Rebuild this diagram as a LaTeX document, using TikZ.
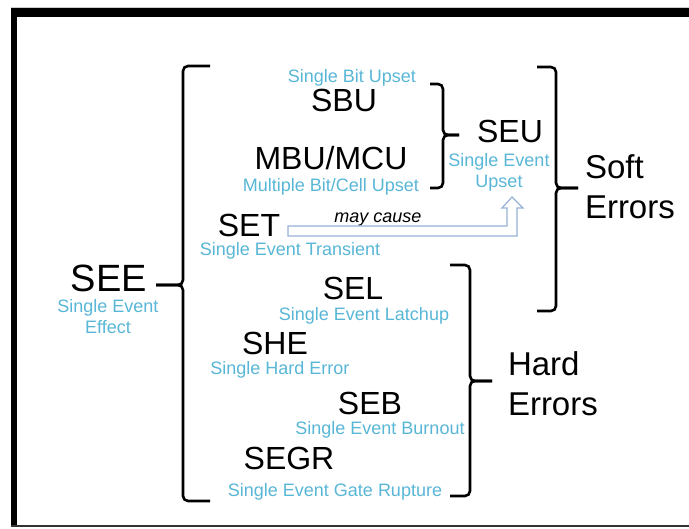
\documentclass[tikz,border=0pt]{standalone}
\usepackage{fontspec}
\setmainfont{Liberation Sans}
\usepackage{tikz}
\definecolor{seeblue}{RGB}{88,182,214}
\definecolor{arrowblue}{RGB}{150,176,214}

\begin{document}
\begin{tikzpicture}[x=1pt, y=-1pt,
  every node/.style={inner sep=0pt, outer sep=0pt},
  big/.style={font=\fontsize{38}{42}\selectfont},
  abbr/.style={font=\fontsize{32}{36}\selectfont, anchor=base},
  full/.style={text=seeblue, font=\fontsize{18}{21.5}\selectfont, align=center},
  group/.style={font=\fontsize{33}{40}\selectfont, align=left, anchor=west},
  brk/.style={line width=2.6pt, rounded corners=5pt}]
\useasboundingbox (0,0) rectangle (689,529);

% frame
\draw[gray!40] (11,7.5) -- (689,7.5);
\fill[black] (11,8.5) rectangle (689,17);
\fill[black] (11,8.5) rectangle (17,527.5);
\fill[black!80] (11,525.5) rectangle (689,527.5);

% root
\node[big, anchor=base] (see) at (109,292) {SEE};
\node[full] (seeFull) at (108,316.5) {Single Event\\Effect};

% soft errors side
\node[full, anchor=base] (sbuFull) at (352,83) {Single Bit Upset};
\node[abbr] (sbu) at (344,112) {SBU};
\node[abbr] (mbu) at (331,170) {MBU/MCU};
\node[full, anchor=base] (mbuFull) at (331,192) {Multiple Bit/Cell Upset};
\node[abbr] (set) at (249,237) {SET};
\node[full, anchor=base] (setFull) at (290,256) {Single Event Transient};
\node[abbr] (seu) at (510,143) {SEU};
\node[full] (seuFull) at (499,172.5) {Single Event\\Upset};
\node[group] (soft) at (585,187) {Soft\\Errors};

% may cause
\node[font=\fontsize{18}{21}\selectfont\itshape, anchor=base] (cause) at (378,223) {may cause};
\draw[arrowblue, line width=1.2pt, fill=white, line join=miter]
  (288,226) -- (507,226) -- (507,208) -- (502,208) -- (512,197) -- (523,208)
  -- (517,208) -- (517,236) -- (288,236) -- cycle;

% hard errors side
\node[abbr] (sel) at (353,300) {SEL};
\node[full, anchor=base] (selFull) at (364,321) {Single Event Latchup};
\node[abbr] (she) at (275,355) {SHE};
\node[full, anchor=base] (sheFull) at (280,375) {Single Hard Error};
\node[abbr] (seb) at (370,415) {SEB};
\node[full, anchor=base] (sebFull) at (380,435) {Single Event Burnout};
\node[abbr] (segr) at (289,470) {SEGR};
\node[full, anchor=base] (segrFull) at (335,497) {Single Event Gate Rupture};
\node[group] (hard) at (508,384) {Hard\\Errors};

% brackets
\coordinate (seeTip) at (156,285);
\coordinate (seuTip) at (459,135);
\coordinate (softTip) at (578,188);
\coordinate (hardTip) at (492,381);

\draw[brk] (210,66) -| (183,285) -- (seeTip);
\draw[brk] (seeTip) -- (183,285) |- (210,501);

\draw[brk] (430,84) -| (443,135) -- (seuTip);
\draw[brk] (seuTip) -- (443,135) |- (430,188);

\draw[brk] (537,67) -| (556,188) -- (softTip);
\draw[brk] (softTip) -- (556,188) |- (537,311);

\draw[brk] (450,265) -| (470,381) -- (hardTip);
\draw[brk] (hardTip) -- (470,381) |- (450,496);
\end{tikzpicture}
\end{document}
